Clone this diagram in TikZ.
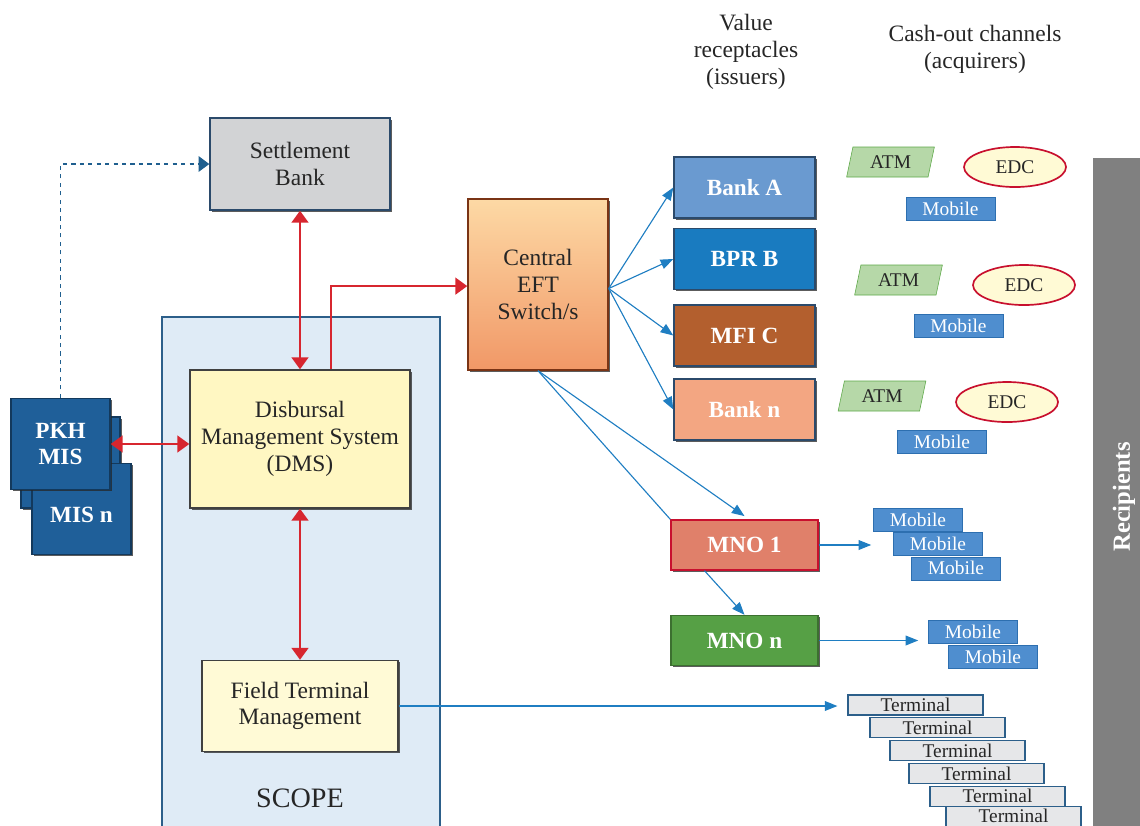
\documentclass[tikz,border=0pt]{standalone}
\usepackage{fontspec}
\setmainfont{Liberation Serif}
\usetikzlibrary{arrows.meta, positioning, shapes.geometric, shadows}

\definecolor{sbfill}{HTML}{D2D3D5}
\definecolor{boxedge}{HTML}{2B4A6B}
\definecolor{scopefill}{HTML}{DFEBF6}
\definecolor{scopeedge}{HTML}{2C5F8A}
\definecolor{dmsfill}{HTML}{FFF7C2}
\definecolor{ftmfill}{HTML}{FFFAD6}
\definecolor{misblue}{HTML}{1F5F99}
\definecolor{bankA}{HTML}{6A9AD0}
\definecolor{bprB}{HTML}{197BC0}
\definecolor{mfiC}{HTML}{B35F2E}
\definecolor{bankN}{HTML}{F3A682}
\definecolor{mnoA}{HTML}{E0806A}
\definecolor{mnoN}{HTML}{56A045}
\definecolor{swtop}{HTML}{FDD9A5}
\definecolor{swbot}{HTML}{F19867}
\definecolor{swedge}{HTML}{7A3415}
\definecolor{linkred}{HTML}{D7262F}
\definecolor{linkblue}{HTML}{1F7EC2}
\definecolor{dashblue}{HTML}{1F5F8F}
\definecolor{atmfill}{HTML}{B6D8A8}
\definecolor{atmedge}{HTML}{5DA848}
\definecolor{edcfill}{HTML}{FFFAD5}
\definecolor{edcedge}{HTML}{C8102E}
\definecolor{mobfill}{HTML}{4F8ECF}
\definecolor{mobedge}{HTML}{2D6FB0}
\definecolor{termfill}{HTML}{E6E7E9}
\definecolor{recgray}{HTML}{808080}

\begin{document}
\begin{tikzpicture}[
    x=0.025cm, y=-0.025cm,
    on grid,
    bevel/.style={drop shadow={shadow xshift=1.3pt, shadow yshift=-1.3pt, fill=black!85, opacity=0.75}},
    mainfont/.style={font=\fontsize{16.7}{19}\selectfont},
    mainbox/.style={mainfont, bevel, draw=boxedge, line width=1pt, align=center, text=black!85},
    orgbox/.style={bevel, draw=boxedge, line width=1pt, text=white, font=\fontsize{16.5}{19}\selectfont\bfseries,
        minimum width=3.525cm, minimum height=1.525cm},
    mnobox/.style={orgbox, minimum width=3.675cm, minimum height=1.25cm},
    misbox/.style={bevel, fill=misblue, draw=misblue!60!black, line width=1pt, text=white,
        font=\fontsize{16.5}{19}\selectfont\bfseries, align=center,
        minimum width=2.475cm, minimum height=2.275cm},
    small/.style={font=\fontsize{13.8}{15}\selectfont, inner sep=0pt},
    atm/.style={small, trapezium, trapezium left angle=75, trapezium right angle=105,
        trapezium stretches=true, fill=atmfill, draw=atmedge, text=black!85,
        minimum width=2.2cm, minimum height=0.75cm},
    edc/.style={small, ellipse, fill=edcfill, draw=edcedge, line width=1.2pt, text=black!85,
        minimum width=2.55cm, minimum height=1cm},
    mob/.style={small, fill=mobfill, draw=mobedge, text=white, minimum width=2.225cm, minimum height=0.575cm},
    term/.style={small, fill=termfill, draw=scopeedge, line width=0.8pt, text=black!85,
        minimum width=3.375cm, minimum height=0.5cm},
    redlink/.style={draw=linkred, line width=1.4pt, >={Triangle[length=8.5pt, width=12pt]}},
    bluelink/.style={draw=linkblue, line width=0.8pt, ->, >={Triangle[length=9pt, width=7pt]}},
    dashlink/.style={draw=dashblue, line width=0.8pt, dashed, ->, >={Triangle[length=7.5pt, width=11pt]}}
]
   \useasboundingbox (0,0) rectangle (1140,825);
   \clip (0,0) rectangle (1140,825);

   % Headers
   \node[mainfont, align=center, text=black!85] (hdrissue) at (746,52) {Value\\receptacles\\(issuers)};
   \node[mainfont, align=center, text=black!85] (hdrcash) at (975,49) {Cash-out channels\\(acquirers)};

   % Scope area
   \fill[scopefill] (162,317) rectangle (440,830);
   \draw[scopeedge, line width=1.4pt] (162,830) -- (162,317) -- (440,317) -- (440,830);
   \node[font=\fontsize{20}{22}\selectfont, text=black!85] (scope) at (300,798) {SCOPE};

   % Main boxes
   \node[mainbox, fill=sbfill, minimum width=4.5cm, minimum height=2.3cm] (sb) at (300,164) {Settlement\\Bank};
   \node[mainbox, fill=dmsfill, draw=black!75, minimum width=5.5cm, minimum height=3.45cm] (dms) at (300,439)
        {Disbursal\\Management System\\(DMS)};
   \node[mainbox, fill=ftmfill, draw=black!75, minimum width=4.9cm, minimum height=2.275cm] (ftm) at (300,706)
        {Field Terminal\\Management};
   \node[mainbox, top color=swtop, bottom color=swbot, draw=swedge, minimum width=3.5cm, minimum height=4.275cm] (sw)
        at (538,284.5) {Central\\EFT\\Switch/s};

   % MIS stack (back to front)
   \node[misbox] (mismid) at (70.5,462.5) {};
   \node[misbox] (misn) at (81.5,509) {};
   \node[text=white, font=\fontsize{16.5}{19}\selectfont\bfseries] (misnlbl) at (81.5,515) {MIS n};
   \node[misbox] (pkh) at (60.5,444) {PKH\\MIS};

   % Issuers
   \node[orgbox, fill=bankA] (bA) at (744.5,187.5) {Bank A};
   \node[orgbox, fill=bprB] (bB) at (744.5,259) {BPR B};
   \node[orgbox, fill=mfiC] (bC) at (744.5,335.5) {MFI C};
   \node[orgbox, fill=bankN] (bN) at (744.5,409.5) {Bank n};
   \node[mnobox, fill=mnoA, draw=edcedge] (mA) at (744.5,545) {MNO 1};
   \node[mnobox, fill=mnoN, draw=mnoN!70!black] (mN) at (744.5,640.5) {MNO n};

   % Cash-out channels
   \node[atm] (atm1) at (890.5,162) {ATM};
   \node[edc] (edc1) at (1015,167) {EDC};
   \node[mob] (mob1) at (950.5,208.5) {Mobile};
   \node[atm] (atm2) at (898.5,280) {ATM};
   \node[edc] (edc2) at (1024,285) {EDC};
   \node[mob] (mob2) at (958.5,326) {Mobile};
   \node[atm] (atm3) at (882,396) {ATM};
   \node[edc] (edc3) at (1007,402) {EDC};
   \node[mob] (mob3) at (942,442) {Mobile};

   \node[mob] (mobA1) at (918,519.5) {Mobile};
   \node[mob] (mobA2) [below right=0.61cm and 0.5cm of mobA1] {Mobile};
   \node[mob] (mobA3) [below right=0.61cm and 0.45cm of mobA2] {Mobile};
   \node[mob] (mobN1) at (973,632) {Mobile};
   \node[mob] (mobN2) [below right=0.61cm and 0.5cm of mobN1] {Mobile};

   \node[term] (t1) at (915.5,705) {Terminal};
   \node[term] (t2) [below right=0.57cm and 0.55cm of t1] {Terminal};
   \node[term] (t3) [below right=0.57cm and 0.5cm of t2] {Terminal};
   \node[term] (t4) [below right=0.57cm and 0.475cm of t3] {Terminal};
   \node[term] (t5) [below right=0.57cm and 0.525cm of t4] {Terminal};
   \node[term] (t6) [below right=0.5cm and 0.4cm of t5] {Terminal};

   % Recipients bar
   \fill[recgray] (1093,158) rectangle (1140,830);
   \node[rotate=90, text=white, font=\fontsize{17.5}{19}\selectfont\bfseries] (rcp) at (1124,497) {Recipients};

   % Links
   \draw[dashlink] (pkh.north) |- (sb.west);
   \draw[redlink, <->] (sb.south) -- (dms.north);
   \draw[redlink, <->] (pkh.east) -- (pkh.east -| dms.west);
   \draw[redlink, <->] (dms.south) -- (dms.south |- ftm.north);
   \draw[redlink, ->] ([xshift=0.775cm]dms.north) |- ([yshift=-0.04cm]sw.west);

   \draw[bluelink] ([yshift=-0.1cm]sw.east) -- (bA.west);
   \draw[bluelink] ([yshift=-0.1cm]sw.east) -- (bB.west);
   \draw[bluelink] ([yshift=-0.1cm]sw.east) -- (bC.west);
   \draw[bluelink] ([yshift=-0.1cm]sw.east) -- (bN.west);
   \draw[bluelink] (sw.south) -- ([yshift=0.08cm]mA.north);
   \draw[bluelink, -] (sw.south) -- (mA.north west);
   \draw[bluelink] ([xshift=-1cm]mA.south) -- (mN.north);
   \draw[bluelink, shorten >=0.55cm] (mA.east) -- (mA.east -| mobA2.west);
   \draw[bluelink, shorten >=0.25cm] (mN.east) -- (mN.east -| mobN1.west);
   \draw[bluelink, shorten >=0.25cm] (ftm.east) -- (ftm.east -| t1.west);
\end{tikzpicture}
\end{document}
